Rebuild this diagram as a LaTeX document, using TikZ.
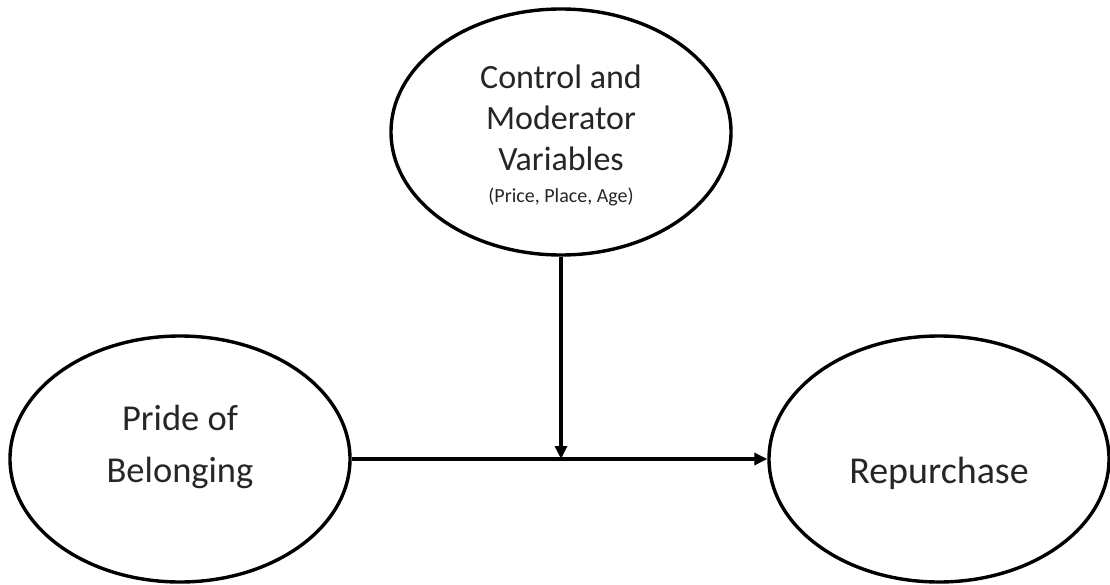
\documentclass[tikz,border=0pt]{standalone}
\usepackage{fontspec}
\setmainfont{Carlito}
\usetikzlibrary{arrows.meta,shapes.geometric}
\begin{document}
\begin{tikzpicture}[x=1pt,y=-1pt,
  construct/.style={draw=black,line width=3.4pt,ellipse,minimum width=340pt,
    minimum height=246pt,inner sep=0pt},
  label/.style={align=center,inner sep=0pt,text=black!85},
  link/.style={line width=3.2pt,-{Triangle[length=13pt,width=12pt]}}]
  \useasboundingbox (0,0) rectangle (1110,585);

  % the three constructs
  \node[construct] (mod) at (561,132) {};
  \node[construct] (pride) at (180,459) {};
  \node[construct] (rep) at (939,459) {};

  % their labels (multi-line labels sit on the baseline of their last line)
  \node[label,font=\fontsize{34}{41}\selectfont,anchor=base] (modtxt) at (561,171)
    {Control and\\Moderator\\Variables};
  \node[label,font=\fontsize{20}{24}\selectfont,anchor=base] (modsub) at (561,203)
    {(Price, Place, Age)};
  \node[label,font=\fontsize{36.5}{52}\selectfont,anchor=base] (pridetxt) at (180,482)
    {Pride of\\Belonging};
  \node[label,font=\fontsize{38}{44}\selectfont,anchor=base] (reptxt) at (939,483)
    {Repurchase};

  % main path and the moderating influence on it
  \draw[link] (pride.east) -- (rep.west);
  \coordinate (meet) at (561,459);
  \draw[link] (mod.south) -- (meet);
\end{tikzpicture}
\end{document}
